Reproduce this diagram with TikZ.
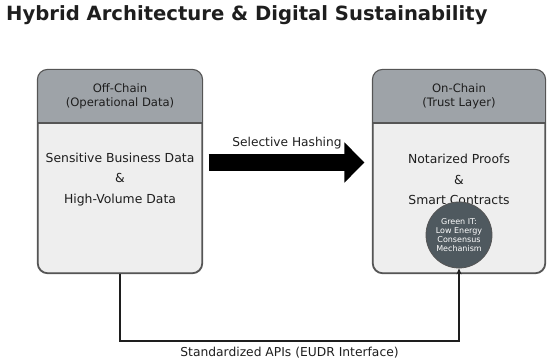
\documentclass[tikz,border=0pt]{standalone}
\usepackage{fontspec}
\setmainfont{DejaVu Sans}
\usetikzlibrary{arrows.meta}
\definecolor{hdrgray}{HTML}{9EA3A8}
\definecolor{bodygray}{HTML}{EEEEEE}
\definecolor{bordergray}{HTML}{555555}
\definecolor{circgray}{HTML}{4F595F}
\definecolor{txtdark}{HTML}{1E1E1E}
\tikzset{
  panel/.style={draw=bordergray, line width=1.1pt, fill=bodygray, rounded corners=10pt,
    minimum width=164pt, minimum height=203pt, inner sep=0pt},
  hdrtext/.style={align=center, text=txtdark, font=\fontsize{11.6}{14}\selectfont},
  bodytext/.style={align=center, text=txtdark, font=\fontsize{12.4}{20.5}\selectfont},
  greencirc/.style={circle, fill=circgray, draw=bordergray, line width=0.8pt, minimum size=66pt, inner sep=0pt,
    align=center, text=white, font=\fontsize{8}{8.8}\selectfont},
  bigarrow/.style={line width=17pt, -{Triangle[length=20pt,width=39pt]}},
  apiline/.style={draw=txtdark, line width=1.1pt, -{Stealth[length=6pt,width=5pt]}},
  lbl/.style={text=txtdark, font=\fontsize{12.2}{14}\selectfont}
}
\begin{document}
\begin{tikzpicture}[x=1pt,y=-1pt]
\useasboundingbox (0,0) rectangle (550,363);
% title
\node[anchor=west, inner sep=0pt, text=txtdark, font=\fontsize{19.6}{22}\selectfont\bfseries] (title) at (6,15) {Hybrid Architecture \& Digital Sustainability};
% panels
\node[panel] (off) at (120,171.5) {};
\node[panel, minimum width=172pt] (on) at (459,171.5) {};
\foreach \p in {off,on}{
  \fill[hdrgray] (\p.west |- 0,123) {[rounded corners=10pt] -- (\p.north west) -- (\p.north east)} -- (\p.east |- 0,123) -- cycle;
  \draw[bordergray, line width=1.1pt] (\p.west |- 0,123) -- (\p.east |- 0,123);
  \draw[bordergray, line width=1.1pt, rounded corners=10pt] (\p.north west) rectangle (\p.south east);
}
\node[hdrtext] (offhdr) at (120,96) {Off-Chain\\(Operational Data)};
\node[hdrtext] (onhdr) at (459,96) {On-Chain\\(Trust Layer)};
\node[bodytext] (offbody) at (120,179.5) {Sensitive Business Data\\\&\\High-Volume Data};
\node[bodytext] (onbody) at (459,179.5) {Notarized Proofs\\\&\\Smart Contracts};
\node[greencirc] (green) at (459,235) {Green IT:\\Low Energy\\Consensus\\Mechanism};
% selective hashing arrow
\draw[bigarrow, shorten <=6pt, shorten >=8pt] (off.east |- 0,162.5) -- (on.west |- 0,162.5);
\node[lbl] (hashlbl) at (287,143) {Selective Hashing};
% API connector
\coordinate (apil) at (120,341);
\draw[apiline] (off.south) -- (apil) -| node[pos=0.25, below=2pt, lbl, font=\fontsize{12.3}{14}\selectfont] (apilbl) {Standardized APIs (EUDR Interface)} (green.south);
\end{tikzpicture}
\end{document}
